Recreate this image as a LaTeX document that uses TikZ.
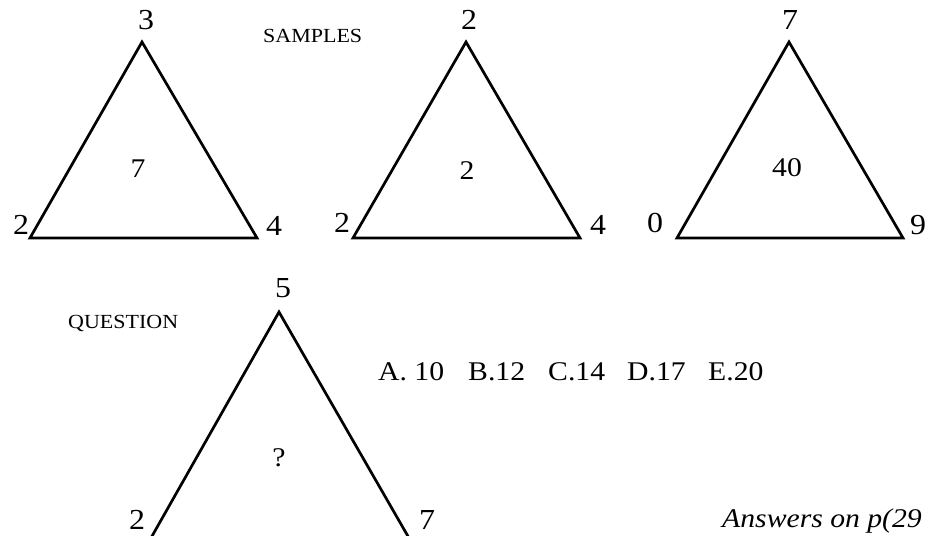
\documentclass[tikz,border=0pt]{standalone}
\usepackage{fontspec}
\setmainfont{Liberation Serif}[FakeStretch=1.1]
\begin{document}
\begin{tikzpicture}[x=1pt,y=-1pt,
  tri/.style={line width=2.7pt,line join=miter},
  vlab/.style={inner sep=0pt,font=\fontsize{29}{31}\selectfont},
  clab/.style={inner sep=0pt,font=\fontsize{27}{30}\selectfont},
  head/.style={inner sep=0pt,anchor=base west,font=\fontsize{20}{24}\selectfont},
  opt/.style={inner sep=0pt,anchor=base west,font=\fontsize{27}{30}\selectfont},
  note/.style={inner sep=0pt,anchor=base west,font=\itshape\fontsize{27}{30}\selectfont}]
\useasboundingbox (0,0) rectangle (928,535);
\clip (0,0) rectangle (928,535);
% sample triangle 1
\coordinate (a1) at (142,42);
\coordinate (b1) at (30,238);
\coordinate (c1) at (257,238);
\draw[tri] (a1) -- (b1) -- (c1) -- cycle;
\node[vlab] (t1) at (146,20) {3};
\node[vlab] (l1) at (21,225) {2};
\node[vlab] (r1) at (274,226) {4};
\node[clab] (m1) at (138,169) {7};
% sample triangle 2
\coordinate (a2) at (466,42);
\coordinate (b2) at (353,238);
\coordinate (c2) at (580,238);
\draw[tri] (a2) -- (b2) -- (c2) -- cycle;
\node[vlab] (t2) at (469,20) {2};
\node[vlab] (l2) at (342,223) {2};
\node[vlab] (r2) at (598,225) {4};
\node[clab] (m2) at (467,171) {2};
% sample triangle 3
\coordinate (a3) at (789,42);
\coordinate (b3) at (677,238);
\coordinate (c3) at (903,238);
\draw[tri] (a3) -- (b3) -- (c3) -- cycle;
\node[vlab] (t3) at (790,20) {7};
\node[vlab] (l3) at (655,223) {0};
\node[vlab] (r3) at (918,225) {9};
\node[clab] (m3) at (787,168) {40};
% question triangle
\coordinate (qa) at (279,312);
\coordinate (qb) at (147,545);
\coordinate (qc) at (413,545);
\draw[tri] (qb) -- (qa) -- (qc);
\node[vlab] (qt) at (283,288) {5};
\node[vlab] (ql) at (137,520) {2};
\node[vlab] (qr) at (427,520) {7};
\node[clab] (qm) at (279,458) {?};
% headings
\node[head] (samples) at (263,43) {SAMPLES};
\node[head] (question) at (68,328) {QUESTION};
% options
\node[opt] (opta) at (378,380) {A. 10};
\node[opt] (optb) at (468,380) {B.12};
\node[opt] (optc) at (548,380) {C.14};
\node[opt] (optd) at (627,380) {D.17};
\node[opt] (opte) at (708,380) {E.20};
% note
\node[note] (answers) at (722,527) {Answers on p(29};
\end{tikzpicture}
\end{document}
